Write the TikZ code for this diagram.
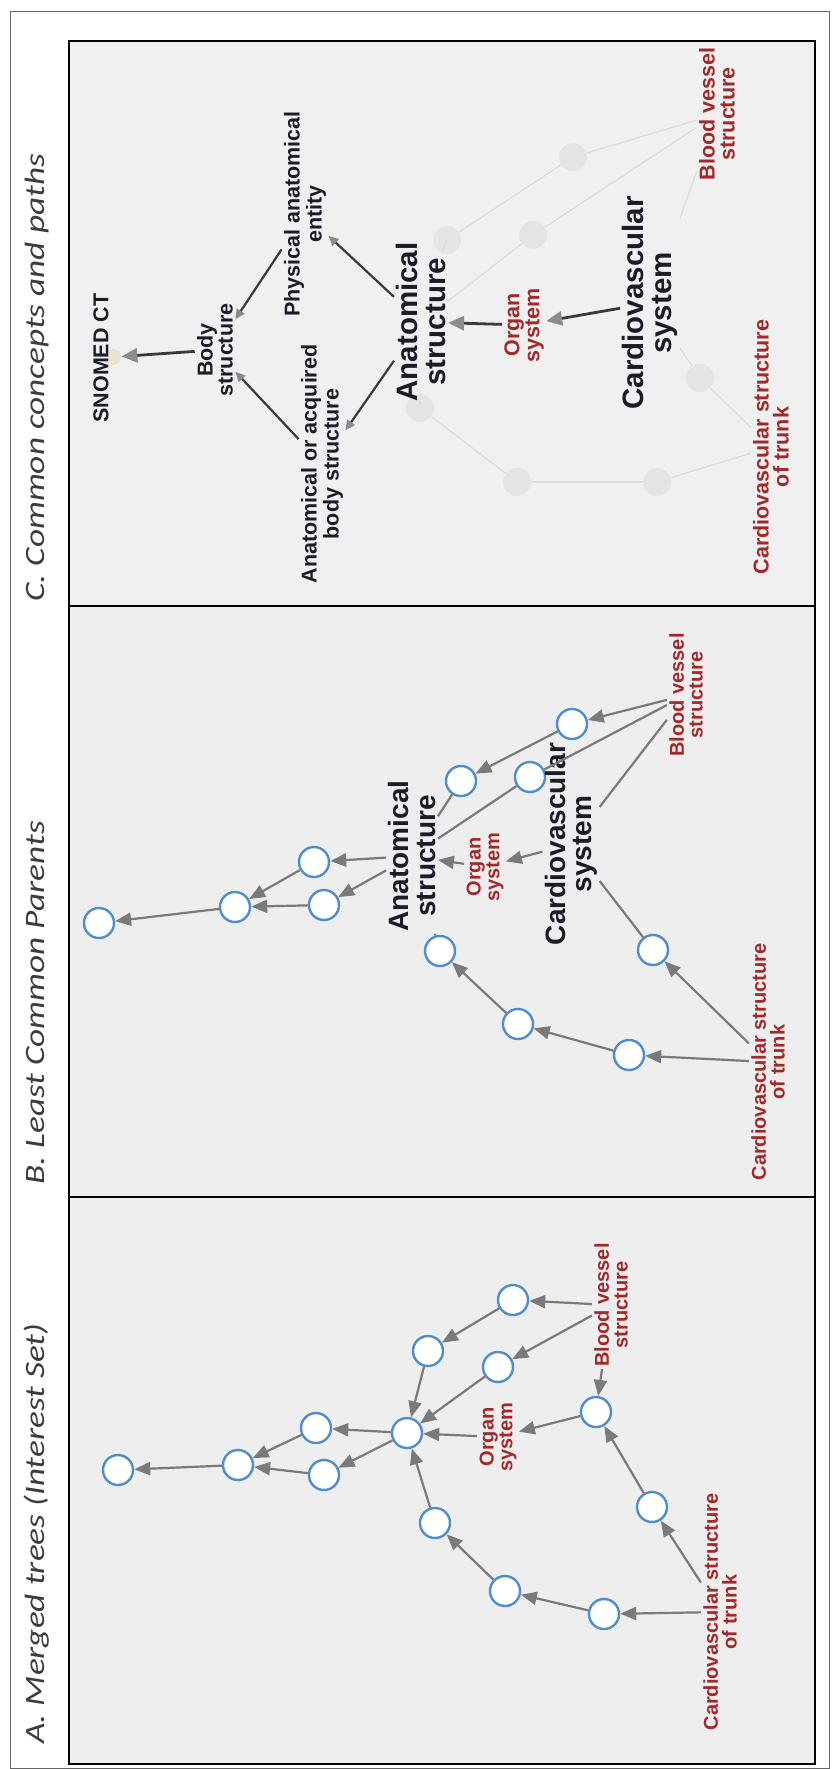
\documentclass[tikz,border=0pt]{standalone}
\usepackage{fontspec}
\usepackage{graphicx}
\usetikzlibrary{arrows.meta}
\newfontfamily\lblfont{Liberation Sans}
\newfontfamily\ttlfont{Carlito}
\definecolor{panelfill}{HTML}{EEEEEE}
\definecolor{panelfillc}{HTML}{F0F0F0}
\definecolor{nodeblue}{HTML}{4F8DCB}
\definecolor{edgegray}{HTML}{7A7A7A}
\definecolor{lblred}{HTML}{A3282A}
\definecolor{lbldark}{HTML}{1C1C28}
\definecolor{ghostgray}{HTML}{E4E4E4}
\definecolor{faintgray}{HTML}{DCDCDC}
\definecolor{darkedge}{HTML}{3A3A3A}
\definecolor{headgray}{HTML}{8C8C8C}
\definecolor{roottan}{HTML}{EAE2CF}
\definecolor{titlegray}{HTML}{3C3C3C}

\begin{document}
\begin{tikzpicture}[x=0.5pt,y=-0.5pt,
        every node/.style={inner sep=1pt},
        concept/.style={circle,draw=nodeblue,fill=white,line width=1.2pt,minimum size=15pt,inner sep=0pt},
        ghost/.style={circle,fill=ghostgray,minimum size=14pt,inner sep=0pt},
        leaflbl/.style={rotate=90,align=center,text=lblred,font=\lblfont\bfseries\fontsize{10pt}{9.4pt}\selectfont},
        biglbl/.style={rotate=90,align=center,text=lbldark,font=\lblfont\bfseries\fontsize{14pt}{13.2pt}\selectfont},
        leafc/.style={leaflbl,font=\lblfont\bfseries\fontsize{10.75pt}{10pt}\selectfont},
        darkc/.style={leafc,text=lbldark},
        bigc/.style={biglbl,font=\lblfont\bfseries\fontsize{14.75pt}{13.8pt}\selectfont},
        paneltitle/.style={rotate=90,anchor=base west,text=titlegray,font=\ttlfont\itshape\fontsize{14pt}{16pt}\selectfont},
        isa/.style={draw=edgegray,line width=1.1pt,-{Triangle[length=8pt,width=6.5pt]}},
        link/.style={draw=edgegray,line width=1.1pt},
        faint/.style={draw=faintgray,line width=0.6pt},
        darkisa/.style={draw=darkedge,line width=1.1pt,-{Triangle[length=5pt,width=4.5pt,color=headgray]}},
        hlisa/.style={draw=darkedge,line width=1.4pt,-{Triangle[length=8pt,width=7pt,color=headgray]}}
      ]
      \useasboundingbox (0,0) rectangle (831,1769);

      % Frame and panels
      \draw[color=black!60,line width=0.5pt] (10,11) rectangle (829.5,1768);
      \draw[fill=panelfillc,line width=0.8pt] (69,41) rectangle (815,606);
      \draw[fill=panelfill,line width=0.8pt] (69,606) rectangle (815,1197);
      \draw[fill=panelfill,line width=0.8pt] (69,1197) rectangle (815,1764);

      % Panel titles
      \node[paneltitle] (ttlA) at (45,1746) {\scalebox{1.26}[1]{A. Merged trees (Interest Set)}};
      \node[paneltitle] (ttlB) at (45,1187) {\scalebox{1.26}[1]{B. Least Common Parents}};
      \node[paneltitle] (ttlC) at (45,604) {\scalebox{1.26}[1]{C. Common concepts and paths}};

      % A. Merged trees
      \node[concept] (a1) at (118,1470) {};
      \node[concept] (a2) at (238,1465) {};
      \node[concept] (a3) at (316,1428) {};
      \node[concept] (a4) at (324,1475) {};
      \node[concept] (a5) at (407,1433) {};
      \node[concept] (a6) at (428,1351) {};
      \node[concept] (a7) at (513,1300) {};
      \node[concept] (a8) at (498,1367) {};
      \node[concept] (a9) at (596,1412) {};
      \node[concept] (a10) at (435,1523) {};
      \node[concept] (a11) at (505,1591) {};
      \node[concept] (a12) at (604,1614) {};
      \node[concept] (a13) at (652,1507) {};
      \node[leaflbl] (aBV) at (611,1305) {Blood vessel\\structure};
      \node[leaflbl] (aOrg) at (498,1437) {Organ\\system};
      \node[leaflbl] (aTrunk) at (720,1612) {Cardiovascular structure\\of trunk};

      \draw[isa] (a2) -- (a1);
      \draw[isa] (a3) -- (a2);
      \draw[isa] (a4) -- (a2);
      \draw[isa] (a5) -- (a3);
      \draw[isa] (a5) -- (a4);
      \draw[isa] (a6) -- (a5);
      \draw[isa] (a8) -- (a5);
      \draw[isa] (a10) -- (a5);
      \draw[isa] (aOrg) -- (a5);
      \draw[isa] (a7) -- (a6);
      \draw[isa] (aBV) -- (a7);
      \draw[isa] (aBV) -- (a8);
      \draw[isa] (aBV) -- (a9);
      \draw[isa] (a9) -- (aOrg);
      \draw[isa] (a13) -- (a9);
      \draw[isa] (a11) -- (a10);
      \draw[isa] (a12) -- (a11);
      \draw[isa] (aTrunk) -- (a12);
      \draw[isa] (aTrunk) -- (a13);

      % B. Least common parents
      \node[concept] (b1) at (99,923) {};
      \node[concept] (b2) at (235,907) {};
      \node[concept] (b3) at (314,862) {};
      \node[concept] (b4) at (324,905) {};
      \node[concept] (b5) at (461,781) {};
      \node[concept] (b6) at (572,724) {};
      \node[concept] (b7) at (530,777) {};
      \node[concept] (b8) at (440,951) {};
      \node[concept] (b9) at (518,1024) {};
      \node[concept] (b10) at (629,1055) {};
      \node[concept] (b11) at (653,950) {};
      \node[biglbl] (bAnat) at (412,856) {Anatomical\\structure};
      \node[leaflbl] (bOrg) at (485,867) {Organ\\system};
      \node[biglbl] (bCardio) at (571,844) {Cardiovascular\\system};
      \node[leaflbl] (bBV) at (686,695) {Blood vessel\\structure};
      \node[leaflbl] (bTrunk) at (768,1062) {Cardiovascular structure\\of trunk};

      \draw[isa] (b2) -- (b1);
      \draw[isa] (b3) -- (b2);
      \draw[isa] (b4) -- (b2);
      \draw[isa] (bAnat) -- (b3);
      \draw[isa] (bAnat) -- (b4);
      \draw[link] (b5) -- (bAnat);
      \draw[link] (b7) -- (bAnat);
      \draw[link] (b8) -- (bAnat);
      \draw[isa] (bOrg) -- (bAnat);
      \draw[isa] (b6) -- (b5);
      \draw[isa] (bBV) -- (b6);
      \draw[link] (bBV) -- (b7);
      \draw[link] (bBV) -- (bCardio);
      \draw[isa] (bCardio) -- (bOrg);
      \draw[isa] (b9) -- (b8);
      \draw[isa] (b10) -- (b9);
      \draw[isa] (bTrunk) -- (b10);
      \draw[isa] (bTrunk) -- (b11);
      \draw[link] (b11) -- (bCardio);

      % C. Common concepts and paths
      \node[ghost] (f1) at (573,157) {};
      \node[ghost] (f2) at (447,240) {};
      \node[ghost] (f3) at (533,235) {};
      \node[ghost] (f4) at (420,408) {};
      \node[ghost] (f5) at (700,378) {};
      \node[ghost] (f6) at (517,482) {};
      \node[ghost] (f7) at (657,482) {};
      \node[circle,fill=roottan,minimum size=8pt,inner sep=0pt] (cRoot) at (113,357) {};
      \node[darkc] (cSnomed) at (101,358) {SNOMED CT};
      \node[darkc] (cBody) at (215,350) {Body\\structure};
      \node[darkc] (cPhys) at (305,214) {Physical anatomical\\entity};
      \node[darkc] (cAnatAcq) at (322,464) {Anatomical or acquired\\body structure};
      \node[bigc] (cAnat) at (421,322) {Anatomical\\structure};
      \node[leafc] (cOrg) at (524,325) {Organ\\system};
      \node[bigc] (cCardio) at (650,303) {Cardiovascular\\system};
      \node[leafc] (cBV) at (717,114) {Blood vessel\\structure};
      \node[leafc] (cTrunk) at (771,447) {Cardiovascular structure\\of trunk};

      % faded paths
      \draw[faint] (cBV) -- (f1);
      \draw[faint] (f1) -- (f2);
      \draw[faint] (f2) -- (cAnat);
      \draw[faint] (cBV) -- (f3);
      \draw[faint] (f3) -- (cAnat);
      \draw[faint] (cBV) -- (cCardio);
      \draw[faint] (cTrunk) -- (f5);
      \draw[faint] (f5) -- (cCardio);
      \draw[faint] (cTrunk) -- (f7);
      \draw[faint] (f7) -- (f6);
      \draw[faint] (f6) -- (f4);
      \draw[faint] (f4) -- (cAnat);

      % common paths
      \draw[hlisa] (cBody) -- (cRoot);
      \draw[darkisa] (cPhys) -- (cBody);
      \draw[darkisa] (cAnatAcq) -- (cBody);
      \draw[darkisa] (cAnat) -- (cPhys);
      \draw[darkisa] (cAnat) -- (cAnatAcq);
      \draw[hlisa] (cOrg) -- (cAnat);
      \draw[hlisa] (cCardio) -- (cOrg);
    \end{tikzpicture}
\end{document}
